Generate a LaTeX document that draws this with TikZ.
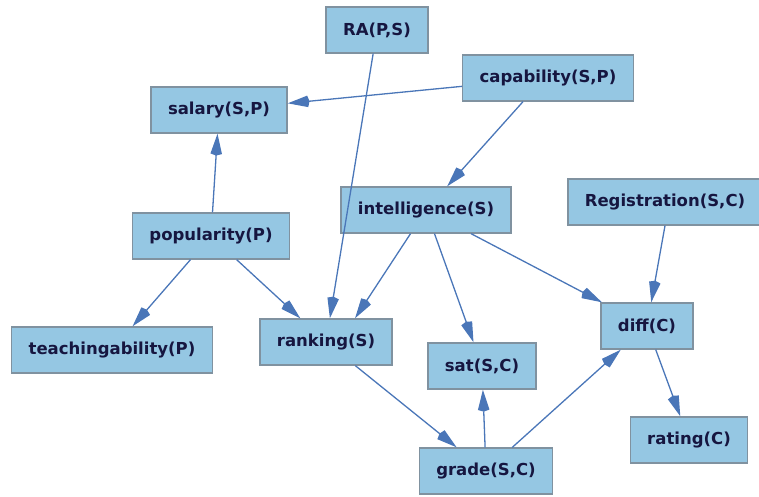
\documentclass[tikz,border=0pt]{standalone}
\usepackage{fontspec}
\setmainfont{DejaVu Sans}
\usepackage{tikz}
\usetikzlibrary{arrows.meta}

\definecolor{boxfill}{RGB}{149,199,227}
\definecolor{boxline}{RGB}{128,146,160}
\definecolor{edgeblue}{RGB}{74,118,184}
\definecolor{labelnavy}{RGB}{22,22,64}

\tikzset{
  var/.style={draw=boxline, line width=1.3pt, fill=boxfill, text=labelnavy,
    font=\fontsize{16.5}{19}\selectfont\bfseries, minimum height=46pt, inner xsep=17pt},
  dep/.style={edgeblue, line width=1.3pt, -{Stealth[length=20pt,width=11pt,inset=-2pt]}}
}

\begin{document}
\begin{tikzpicture}[x=1pt,y=-1pt]
    \useasboundingbox (0,0) rectangle (759,497);

    % Variables
    \node[var] (ra)    at (377,30)  {RA(P,S)};
    \node[var] (cap)   at (548,78)  {capability(S,P)};
    \node[var] (sal)   at (219,110) {salary(S,P)};
    \node[var] (intel) at (426,210) {intelligence(S)};
    \node[var] (reg)   at (665,202) {Registration(S,C)};
    \node[var] (pop)   at (211,236) {popularity(P)};
    \node[var] (teach) at (112,350) {teachingability(P)};
    \node[var] (rank)  at (326,342) {ranking(S)};
    \node[var] (sat)   at (482,366) {sat(S,C)};
    \node[var] (diff)  at (647,326) {diff(C)};
    \node[var] (rate)  at (689,440) {rating(C)};
    \node[var] (grade) at (486,471) {grade(S,C)};

    % Dependencies
    \draw[dep] (ra) -- (rank);
    \draw[dep] (cap) -- (sal);
    \draw[dep] ([xshift=-25pt]cap.south) -- (intel);
    \draw[dep] (pop) -- (sal);
    \draw[dep] (pop) -- (teach);
    \draw[dep] (pop) -- (rank);
    \draw[dep] (intel) -- ([xshift=29pt]rank.north);
    \draw[dep] (intel) -- (sat);
    \draw[dep] (intel) -- (diff);
    \draw[dep] (reg.south) -- (diff);
    \draw[dep] (rank) -- (grade);
    \draw[dep] (grade) -- (sat);
    \draw[dep] (grade) -- (diff);
    \draw[dep] (diff) -- (rate);
\end{tikzpicture}
\end{document}
